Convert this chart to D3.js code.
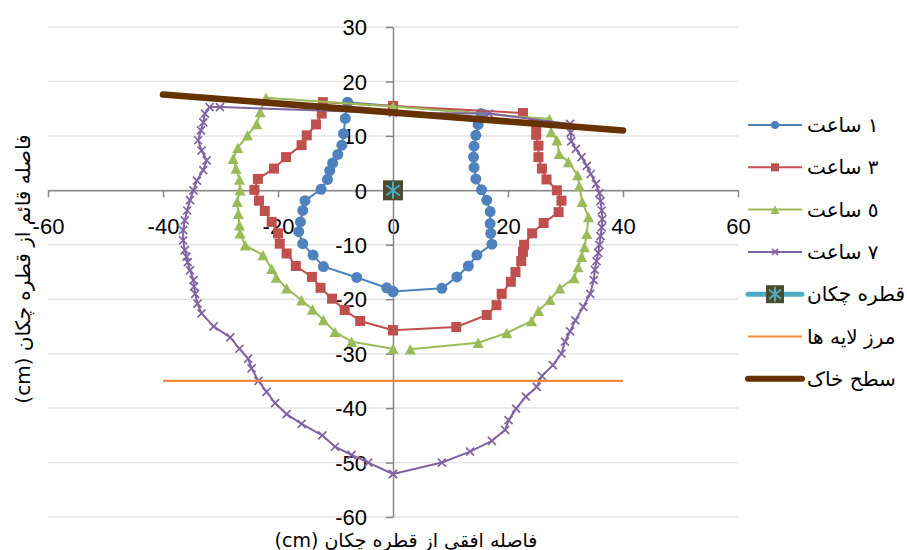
<!DOCTYPE html>
<html><head><meta charset="utf-8">
<script src="https://cdn.jsdelivr.net/npm/d3@7/dist/d3.min.js"></script>
<style>body{margin:0;background:#fff}svg{display:block}</style>
</head><body>
<svg id="c" width="907" height="550"></svg>
<script>
// ---- data ----
const xTicks = [-60, -40, -20, 0, 20, 40, 60];
const yTicks = [30, 20, 10, 0, -10, -20, -30, -40, -50, -60];
const legendLabels = ["١ ساعت", "٣ ساعت", "٥ ساعت", "٧ ساعت", "قطره چکان", "مرز لایه ها", "سطح خاک"];
const xTitle = "فاصله افقي از قطره چکان (cm)";
const yTitle = "فاصله قائم از قطره چکان (cm)";

const hour1 = [[0,-18.6],[8.5,-18.0],[11.1,-15.9],[13.1,-13.9],[14.6,-11.9],[17.2,-9.9],[17.0,-7.9],[16.9,-6.1],[16.9,-3.9],[16.3,-1.8],[15.4,0.1],[14.4,2.1],[14.1,4.2],[14.0,6.1],[14.1,8.1],[14.4,10.1],[14.8,12.1],[15.3,14.1],[0,15.5],[-7.9,16.2],[-8.3,13.2],[-8.6,10.4],[-8.9,8.3],[-9.6,6.6],[-10.5,5.0],[-11.0,3.6],[-11.4,2.0],[-12.5,0.2],[-15.3,-1.9],[-15.7,-3.7],[-16.1,-5.8],[-16.4,-7.6],[-15.7,-9.8],[-13.9,-11.9],[-12.1,-14.0],[-6.3,-16.0],[-1.1,-17.9],[0,-18.6]];
const hour3 = [[0,-25.7],[11.0,-25.1],[16.3,-22.9],[18.0,-21.1],[18.9,-19.0],[20.5,-16.8],[21.3,-15.0],[22.3,-13.0],[22.6,-11.3],[22.8,-10.0],[24.2,-7.9],[26.2,-6.0],[28.8,-4.0],[29.3,-1.9],[28.5,0],[26.7,2.0],[25.9,4.0],[25.3,6.1],[25.3,8.2],[24.9,10.2],[24.9,12.0],[22.6,14.2],[0,15.5],[-12.2,16.2],[-12.4,14.1],[-13.4,12.1],[-15.0,10.1],[-15.9,8.3],[-18.6,6.1],[-20.7,4.0],[-23.5,2.1],[-24.1,0.1],[-23.3,-1.9],[-22.3,-3.8],[-21.1,-5.8],[-20.0,-7.9],[-19.7,-9.8],[-18.5,-11.6],[-16.9,-13.9],[-14.1,-15.9],[-12.6,-17.9],[-10.6,-19.9],[-8.4,-22.0],[-5.7,-24.0],[0,-25.7]];
const hour5 = [[3.0,-29.2],[14.8,-28.0],[19.8,-26.2],[24.1,-24.0],[25.3,-22.1],[27.3,-20.1],[29.0,-18.0],[31.5,-16.1],[32.2,-14.1],[32.8,-12.2],[33.3,-10.4],[33.7,-8.0],[34.0,-4.9],[32.9,-2.1],[32.4,0.8],[32.1,2.8],[30.5,5.2],[28.9,6.7],[28.5,9.2],[27.5,10.7],[27.2,13.1],[0,15.4],[-22.1,17.0],[-23.1,14.4],[-23.7,12.2],[-25.3,10.1],[-27.0,7.8],[-27.8,5.8],[-27.3,4.0],[-26.7,2.0],[-26.6,0],[-27.1,-2.1],[-26.9,-4.3],[-26.7,-6.4],[-26.6,-7.9],[-25.7,-10.1],[-22.6,-11.9],[-21.1,-14.4],[-20.3,-16.0],[-18.5,-18.0],[-15.9,-20.2],[-14.0,-21.9],[-12.1,-23.8],[-10.1,-26.0],[-7.2,-27.8],[0,-29.1]];
const hour7 = [[0,-52.1],[8.5,-50.0],[13.4,-48.0],[17.2,-46.0],[19.5,-44.0],[20.1,-42.2],[21.4,-40.1],[23.1,-37.9],[25.0,-36.1],[25.9,-34.1],[27.8,-32.1],[29.3,-30.0],[29.9,-27.8],[30.8,-25.9],[31.7,-23.9],[33.1,-21.4],[34.3,-19.0],[34.9,-16.5],[35.1,-14.6],[35.4,-13.0],[35.7,-11.5],[35.9,-10.0],[36.1,-8.4],[36.3,-6.8],[36.4,-5.3],[36.3,-3.7],[36.1,-2.0],[35.9,-0.5],[35.3,1.2],[34.4,3.0],[33.7,4.5],[32.8,6.1],[31.8,7.6],[31.0,9.0],[30.9,10.6],[30.8,12.2],[16.7,14.1],[0,14.2],[-30.1,15.3],[-31.9,15.3],[-32.7,14.1],[-33.0,12.5],[-33.4,11.0],[-33.9,9.2],[-33.3,7.3],[-32.4,5.5],[-33.0,3.7],[-34.1,1.8],[-34.7,0],[-35.3,-1.8],[-35.8,-3.7],[-36.2,-5.5],[-36.5,-7.3],[-36.5,-9.2],[-36.2,-11.0],[-35.9,-12.2],[-35.7,-13.2],[-35.3,-14.7],[-34.7,-16.5],[-34.6,-17.7],[-34.4,-19.0],[-34.0,-20.8],[-33.3,-22.6],[-31.2,-25.0],[-28.3,-27.0],[-26.7,-29.1],[-25.2,-30.9],[-24.6,-32.7],[-23.4,-35.0],[-22.0,-37.0],[-20.5,-39.1],[-18.5,-41.1],[-15.9,-42.9],[-12.3,-45.0],[-10.1,-47.1],[-7.2,-48.6],[-4.3,-50.0],[0,-52.1]];
const dripPoint = [[0, 0]];
const layerBoundary = [[-40, -35], [40, -35]];
const soilSurface = [[-40, 17.6], [40, 11.0]];

// ---- styles ----
const C = {blue:"#4F81BD", red:"#C0504D", green:"#9BBB59", purple:"#8064A2", teal:"#4BACC6", orange:"#F08A3C", brown:"#663300", dripFill:"#4d4a2e"};
const numFont = "'Liberation Sans', Arial, sans-serif";
const faFont = "'DejaVu Sans', 'Noto Sans', sans-serif";

const svg = d3.select("#c");
const x = d3.scaleLinear().domain([-60, 60]).range([48, 738]);
const y = d3.scaleLinear().domain([-60, 30]).range([517, 27]);

// gridlines
svg.append("g").selectAll("line").data(yTicks).join("line")
  .attr("x1", x(-60)).attr("x2", x(60))
  .attr("y1", d => y(d)).attr("y2", d => y(d))
  .attr("stroke", "#e3e3e3").attr("stroke-width", 1.5);

// axes
const xAxis = svg.append("g").attr("transform", `translate(0,${y(0)})`)
  .call(d3.axisBottom(x).tickValues(xTicks).tickSize(7).tickSizeOuter(0).tickFormat(d3.format("d")));
const yAxis = svg.append("g").attr("transform", `translate(${x(0)},0)`)
  .call(d3.axisLeft(y).tickValues(yTicks).tickSize(7).tickSizeOuter(0).tickFormat(d3.format("d")));
[xAxis, yAxis].forEach(g => {
  g.select(".domain").attr("stroke", "#868686").attr("stroke-width", 1.5);
  g.selectAll(".tick line").attr("stroke", "#868686").attr("stroke-width", 1.5);
  g.selectAll(".tick text").attr("fill", "#000").style("font-family", numFont).style("font-size", "22px");
});
xAxis.selectAll(".tick text").attr("y", 36).attr("dy", "0.35em").text(d => d < 0 ? "-" + Math.abs(d) : d);
yAxis.selectAll(".tick text").attr("x", -26).attr("dy", "0.35em").text(d => d < 0 ? "-" + Math.abs(d) : d);

// axis titles
svg.append("text").attr("x", 406).attr("y", 547).attr("text-anchor", "middle").attr("direction", "rtl")
  .style("font-family", faFont).style("font-size", "19px").text(xTitle);
svg.append("text").attr("transform", `translate(30,269) rotate(-90)`).attr("text-anchor", "middle").attr("direction", "rtl")
  .style("font-family", faFont).style("font-size", "20px").text(yTitle);

const line = d3.line().x(d => x(d[0])).y(d => y(d[1]));

// marker painters
function circle(g, cx, cy, s, col) { g.append("circle").attr("cx", cx).attr("cy", cy).attr("r", s / 2).attr("fill", col); }
function square(g, cx, cy, s, col) { g.append("rect").attr("x", cx - s / 2).attr("y", cy - s / 2).attr("width", s).attr("height", s).attr("fill", col); }
function triangle(g, cx, cy, s, col) {
  const h = s * 0.95;
  g.append("path").attr("d", `M${cx},${cy - h / 2}L${cx + s / 2},${cy + h / 2}L${cx - s / 2},${cy + h / 2}Z`).attr("fill", col);
}
function cross(g, cx, cy, s, col) {
  const r = s / 2;
  g.append("path").attr("d", `M${cx - r},${cy - r}L${cx + r},${cy + r}M${cx - r},${cy + r}L${cx + r},${cy - r}`)
    .attr("stroke", col).attr("stroke-width", 1.7).attr("fill", "none");
}
function drip(g, cx, cy, s) {
  square(g, cx, cy, s, C.dripFill);
  const r = s / 2 - 1.5, dx = r * 0.8;
  g.append("path").attr("d", `M${cx},${cy - r}L${cx},${cy + r}M${cx - dx},${cy - r * 0.6}L${cx + dx},${cy + r * 0.6}M${cx - dx},${cy + r * 0.6}L${cx + dx},${cy - r * 0.6}`)
    .attr("stroke", C.teal).attr("stroke-width", 2).attr("fill", "none");
}

const series = [
  {data: hour1, col: C.blue, mk: circle, size: 11, lsize: 8},
  {data: hour3, col: C.red, mk: square, size: 10, lsize: 8},
  {data: hour5, col: C.green, mk: triangle, size: 11, lsize: 9},
  {data: hour7, col: C.purple, mk: cross, size: 8, lsize: 6},
];

series.forEach(s => {
  const g = svg.append("g");
  g.append("path").attr("d", line(s.data)).attr("fill", "none").attr("stroke", s.col).attr("stroke-width", 2).attr("stroke-linejoin", "round");
  s.data.forEach(d => s.mk(g, x(d[0]), y(d[1]), s.size, s.col));
});

// drip point
const gd = svg.append("g");
dripPoint.forEach(d => drip(gd, x(d[0]), y(d[1]), 20));

// layer boundary
svg.append("path").attr("d", line(layerBoundary)).attr("stroke", C.orange).attr("stroke-width", 2.2).attr("fill", "none");
// soil surface
svg.append("path").attr("d", line(soilSurface)).attr("stroke", C.brown).attr("stroke-width", 6.5).attr("stroke-linecap", "round").attr("fill", "none");

// legend
const lg = svg.append("g");
const lx0 = 748, lx1 = 802, ltx = 807;
legendLabels.forEach((lab, i) => {
  const ly = 125 + i * 42.3;
  const g = lg.append("g");
  if (i < 4) {
    const s = series[i];
    g.append("line").attr("x1", lx0).attr("x2", lx1).attr("y1", ly).attr("y2", ly).attr("stroke", s.col).attr("stroke-width", 2);
    s.mk(g, (lx0 + lx1) / 2, ly, s.lsize, s.col);
  } else if (i === 4) {
    g.append("line").attr("x1", lx0).attr("x2", lx1).attr("y1", ly).attr("y2", ly).attr("stroke", C.teal).attr("stroke-width", 5).attr("stroke-linecap", "round");
    drip(g, (lx0 + lx1) / 2, ly, 18);
  } else if (i === 5) {
    g.append("line").attr("x1", lx0).attr("x2", lx1).attr("y1", ly).attr("y2", ly).attr("stroke", C.orange).attr("stroke-width", 2);
  } else {
    g.append("line").attr("x1", lx0).attr("x2", lx1).attr("y1", ly).attr("y2", ly).attr("stroke", C.brown).attr("stroke-width", 6).attr("stroke-linecap", "round");
  }
  g.append("text").attr("x", ltx).attr("y", ly).attr("dy", "0.35em").style("font-family", faFont).style("font-size", "20px").text(lab);
});
</script>
</body></html>
